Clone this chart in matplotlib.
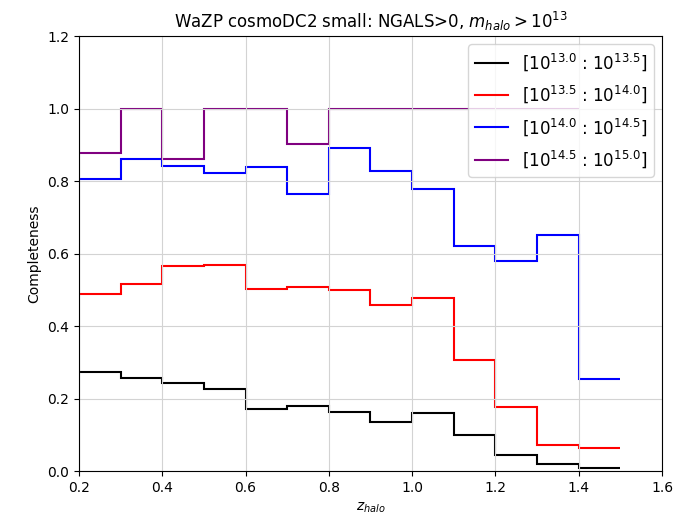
import numpy as np
import matplotlib
matplotlib.use("Agg")
from matplotlib import pyplot as plt

# redshift bin edges
z_edges = np.round(np.arange(0.2, 1.51, 0.1), 2)

# completeness per mass bin
comp_13_135 = [0.272, 0.256, 0.243, 0.227, 0.171, 0.178, 0.162, 0.136, 0.159, 0.100, 0.044, 0.019, 0.009]
comp_135_14 = [0.487, 0.517, 0.566, 0.569, 0.503, 0.507, 0.500, 0.458, 0.477, 0.305, 0.176, 0.071, 0.064]
comp_14_145 = [0.806, 0.861, 0.842, 0.822, 0.839, 0.764, 0.891, 0.828, 0.777, 0.622, 0.578, 0.650, 0.253]
comp_145_15 = [0.877, 1.0, 0.862, 1.0, 1.0, 0.903, 1.0, 1.0, 1.0, 1.0, 1.0, 1.0]

labels = ["[$10^{13.0}$ : $10^{13.5}$]", "[$10^{13.5}$ : $10^{14.0}$]",
          "[$10^{14.0}$ : $10^{14.5}$]", "[$10^{14.5}$ : $10^{15.0}$]"]
colors = ["black", "red", "blue", "purple"]
series = [comp_13_135, comp_135_14, comp_14_145, comp_145_15]

fig, ax = plt.subplots(figsize=(6.79, 5.22), dpi=100)
fig.subplots_adjust(left=0.1163, right=0.975, top=0.931, bottom=0.0977)

for vals, lab, col in zip(series, labels, colors):
    edges = z_edges[:len(vals) + 1]
    ax.stairs(vals, edges, baseline=None, color=col, label=lab, linewidth=1.5)

ax.set_xlim(0.2, 1.6)
ax.set_ylim(0.0, 1.2)
ax.grid(True, color="#d3d3d3")
ax.set_xlabel(r"$z_{halo}$")
ax.set_ylabel("Completeness")
ax.set_title(r"WaZP cosmoDC2 small: NGALS>0, $m_{halo} > 10^{13}$")
ax.legend(loc="upper right", fontsize=12, labelspacing=0.65)

fig.savefig("out.png", dpi=100)
